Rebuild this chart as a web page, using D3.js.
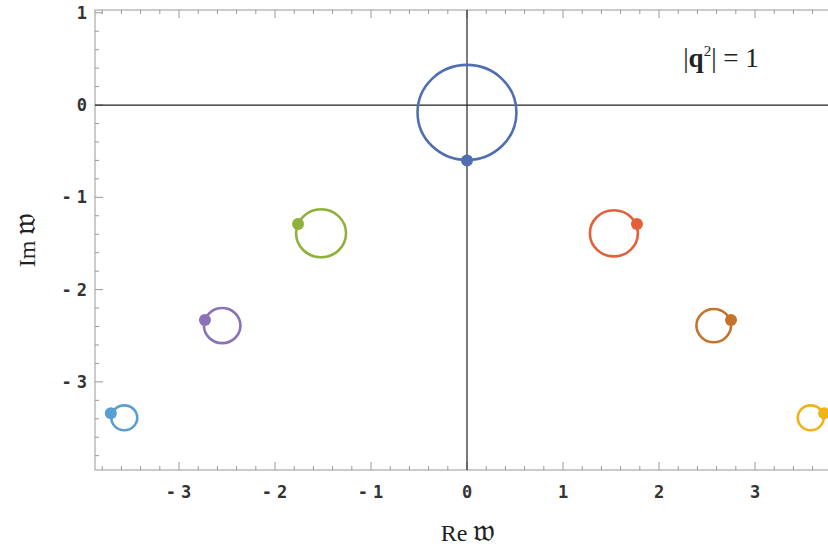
<!DOCTYPE html>
<html>
<head>
<meta charset="utf-8">
<style>
  body { margin: 0; background: #fff; }
  .tick-label { font-family: "DejaVu Sans Mono", monospace; font-size: 17px; font-weight: bold; fill: #333; }
  .axis-title { font-family: "Liberation Serif", serif; font-size: 24px; fill: #222; }
</style>
<script src="https://cdn.jsdelivr.net/npm/d3@7"></script>
</head>
<body>
<svg width="828" height="549"></svg>
<script>
// loops (one per mode): centre, radius, and the marked starting point
var names   = ["n0", "n1L", "n1R", "n2L", "n2R", "n3L", "n3R"];
var colors  = ["#4f6fb0", "#8fb03a", "#e5603a", "#8a72bb", "#c4732c", "#5a9fd4", "#f0b419"];
var centerX = [0.00, -1.52, 1.53, -2.55, 2.57, -3.57, 3.58];
var centerY = [-0.08, -1.39, -1.39, -2.39, -2.39, -3.39, -3.39];
var radius  = [0.515, 0.26, 0.25, 0.19, 0.18, 0.135, 0.135];
var dotX    = [0.00, -1.76, 1.77, -2.73, 2.75, -3.71, 3.72];
var dotY    = [-0.60, -1.29, -1.29, -2.33, -2.33, -3.34, -3.34];

var xTicks = [-3, -2, -1, 0, 1, 2, 3];
var yTicks = [-3, -2, -1, 0, 1];

var svg = d3.select("svg");

var x = d3.scaleLinear().domain([-3.875, 3.875]).range([95, 839]);
var y = d3.scaleLinear().domain([-3.955, 1.03]).range([470, 10]);

var x0 = x.range()[0], x1 = x.range()[1];
var y0 = y.range()[0], y1 = y.range()[1];

// frame
svg.append("rect")
   .attr("x", x0).attr("y", y1)
   .attr("width", x1 - x0).attr("height", y0 - y1)
   .attr("fill", "none").attr("stroke", "#999").attr("stroke-width", 1);

// minor + major ticks
var minorX = d3.range(-38, 39, 2).map(function(d) { return d / 10; });
var minorY = d3.range(-38, 11, 2).map(function(d) { return d / 10; });

function isMajor(v) { return Math.abs(v - Math.round(v)) < 1e-6; }

var tg = svg.append("g").attr("stroke", "#999").attr("stroke-width", 1);
minorX.forEach(function(v) {
  var len = isMajor(v) ? 8 : 4;
  tg.append("line").attr("x1", x(v)).attr("x2", x(v)).attr("y1", y0).attr("y2", y0 - len);
  tg.append("line").attr("x1", x(v)).attr("x2", x(v)).attr("y1", y1).attr("y2", y1 + len);
});
minorY.forEach(function(v) {
  var len = isMajor(v) ? 8 : 4;
  tg.append("line").attr("y1", y(v)).attr("y2", y(v)).attr("x1", x0).attr("x2", x0 + len);
});

// zero axes
svg.append("line")
   .attr("x1", x0).attr("x2", x1).attr("y1", y(0)).attr("y2", y(0))
   .attr("stroke", "#222").attr("stroke-width", 1.2);
svg.append("line")
   .attr("x1", x(0)).attr("x2", x(0)).attr("y1", y1).attr("y2", y0)
   .attr("stroke", "#222").attr("stroke-width", 1.2);

// tick labels
function fmt(d) { return d < 0 ? "-" + (-d) : String(d); }

svg.selectAll(".xl").data(xTicks).enter().append("text")
   .attr("class", "tick-label")
   .attr("x", function(d) { return x(d) + (d < 0 ? 2 : 0); })
   .attr("y", 498)
   .attr("text-anchor", "middle")
   .attr("letter-spacing", function(d) { return d < 0 ? 5 : 0; })
   .text(fmt);

svg.selectAll(".yl").data(yTicks).enter().append("text")
   .attr("class", "tick-label")
   .attr("x", function(d) { return d < 0 ? 92 : 87; })
   .attr("y", function(d) { return y(d) + 6; })
   .attr("text-anchor", "end")
   .attr("letter-spacing", function(d) { return d < 0 ? 5 : 0; })
   .text(fmt);

// axis titles
svg.append("text").attr("class", "axis-title")
   .attr("x", 468).attr("y", 541).attr("text-anchor", "middle")
   .html('Re <tspan font-size="32">\u{1D534}</tspan>');

svg.append("text").attr("class", "axis-title")
   .attr("transform", "translate(35,240) rotate(-90)")
   .attr("text-anchor", "middle")
   .html('Im <tspan font-size="32">\u{1D534}</tspan>');

svg.append("text")
   .attr("x", 721).attr("y", 67).attr("text-anchor", "middle")
   .attr("font-family", "Liberation Serif, serif").attr("font-size", 27).attr("fill", "#222")
   .html('|<tspan font-weight="bold">q</tspan><tspan dy="-11" font-size="15">2</tspan><tspan dy="11">| = 1</tspan>');

// loops
var idx = d3.range(names.length);
var ux = x(1) - x(0), uy = y(0) - y(1);

svg.selectAll(".loop").data(idx).enter().append("ellipse")
   .attr("class", "loop")
   .attr("cx", function(i) { return x(centerX[i]); })
   .attr("cy", function(i) { return y(centerY[i]); })
   .attr("rx", function(i) { return radius[i] * ux; })
   .attr("ry", function(i) { return radius[i] * uy; })
   .attr("fill", "none")
   .attr("stroke", function(i) { return colors[i]; })
   .attr("stroke-width", 2.6);

svg.selectAll(".dot").data(idx).enter().append("circle")
   .attr("class", "dot")
   .attr("cx", function(i) { return x(dotX[i]); })
   .attr("cy", function(i) { return y(dotY[i]); })
   .attr("r", 6)
   .attr("fill", function(i) { return colors[i]; });
</script>
</body>
</html>
